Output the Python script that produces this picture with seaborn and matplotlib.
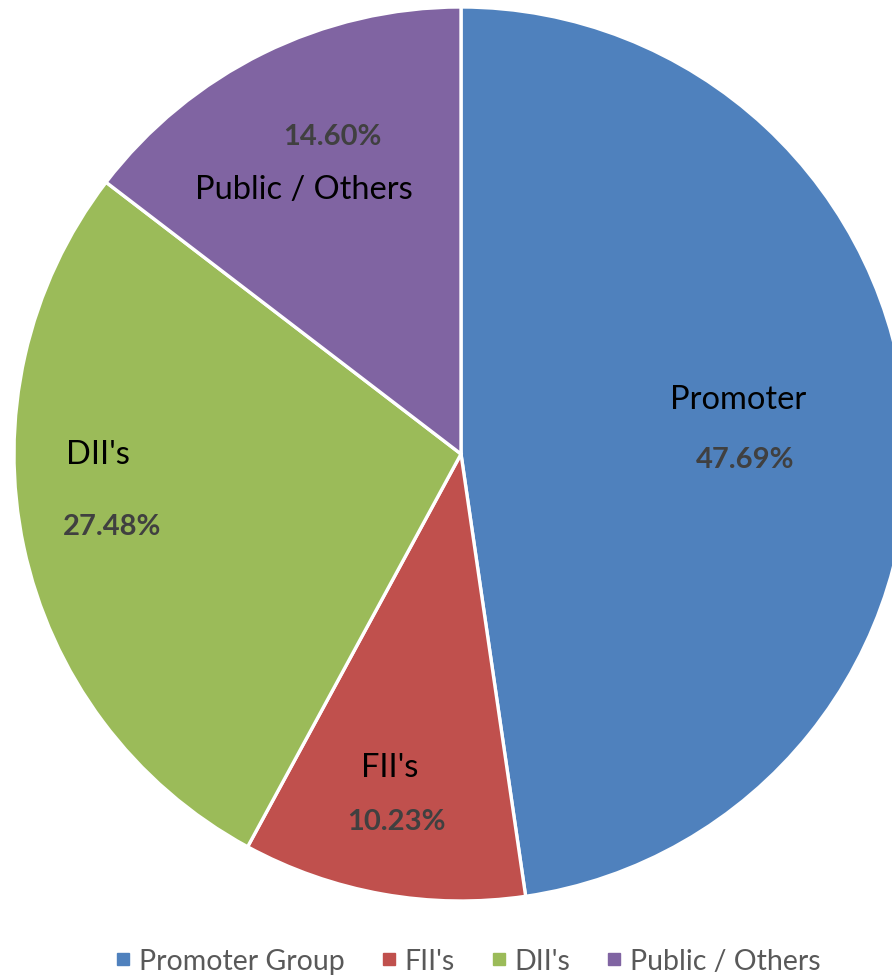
import matplotlib
matplotlib.use("Agg")
import matplotlib.pyplot as plt
import seaborn as sns
from matplotlib.lines import Line2D

categories = ["Promoter Group", "FII's", "DII's", "Public / Others"]
short_labels = ["Promoter", "FII's", "DII's", "Public / Others"]
shares = [47.69, 10.23, 27.48, 14.60]
pct_labels = ["47.69%", "10.23%", "27.48%", "14.60%"]
colors = ["#4F81BD", "#C0504D", "#9BBB59", "#8064A2"]

sns.set_theme(style="white")
plt.rcParams['font.family'] = ['Lato', 'DejaVu Sans']

W, H = 892, 978
fig = plt.figure(figsize=(W / 100, H / 100), dpi=100)
fig.patch.set_facecolor("white")
ax = fig.add_axes([0, 0, 1, 1])

cx, cy, R = 461, H - 455, 447
wedges, _ = ax.pie(shares, colors=colors, startangle=90, counterclock=False,
                   center=(cx, cy), radius=R, frame=True,
                   wedgeprops=dict(edgecolor="white", linewidth=2.4))
ax.set_xlim(0, W)
ax.set_ylim(0, H)
ax.axis("off")

# label layout (pixel positions from top-left): (name_x, name_y, pct_x, pct_y)
layout = [
    (738, 400, 745, 460),
    (390, 768, 396, 822),
    (98, 455, 112, 527),
    (304, 190, 332, 137),
]
for name, pct, (nx, ny, px, py) in zip(short_labels, pct_labels, layout):
    ax.text(nx, H - ny, name, ha="center", va="center", fontsize=23.5, color="black")
    ax.text(px, H - py, pct, ha="center", va="center", fontsize=21,
            fontweight="bold", color="#404040")

handles = [Line2D([0], [0], marker="s", linestyle="none", markersize=8.5,
                  markerfacecolor=c, markeredgecolor=c) for c in colors]
fig.legend(handles, categories, loc="center", bbox_to_anchor=(0.525, 1 - 962 / H),
           ncol=4, frameon=False, fontsize=20.5, labelcolor="#595959",
           handlelength=0.5, handletextpad=0.3, columnspacing=1.3,
           borderaxespad=0, borderpad=0)

fig.savefig("out.png", dpi=100, facecolor="white")
